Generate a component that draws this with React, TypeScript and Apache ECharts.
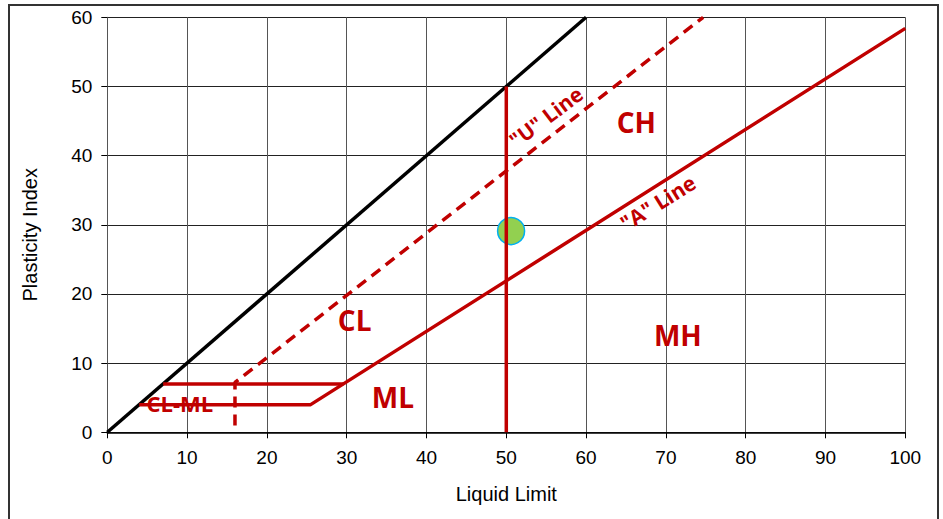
import React, { useEffect, useRef } from "react";
import * as echarts from "echarts";

// Axis ticks
const xTicks = [0, 10, 20, 30, 40, 50, 60, 70, 80, 90, 100];
const yTicks = [0, 10, 20, 30, 40, 50, 60];

// Boundary lines [LL, PI]
const equalityLine = [[0, 0], [60, 60]];
const uLine = [[16, 1], [16, 7.2], [74.67, 60]];
const aLine = [[4, 4], [25.48, 4], [29.59, 7], [100, 58.4]];
const clmlTop = [[7, 7], [29.59, 7]];
const ll50Line = [[50, 0], [50, 50]];

// Sample point
const samplePoint = [[50.6, 29.1]];

// Zone labels [LL, PI, text, rotate, fontSize]
const zoneLabels: [number, number, string, number, number][] = [
  [31.0, 16.2, "CL", 0, 28],
  [66.3, 44.9, "CH", 0, 28],
  [71.5, 14.1, "MH", 0, 28],
  [35.8, 5.1, "ML", 0, 28],
  [9.1, 4.2, "CL-ML", 0, 22],
  [54.97, 45.6, '"U" Line', 37, 21],
  [69.0, 33.2, '"A" Line', 32, 21],
];

const RED = "#C00000";

export default function App() {
  const ref = useRef<HTMLDivElement>(null);
  useEffect(() => {
    if (!ref.current) return;
    const chart = echarts.init(ref.current, null, { renderer: "svg" });
    const lineSeries = (data: number[][], color: string, type: any = "solid", z = 3) => ({
      type: "line",
      data,
      symbol: "none",
      z,
      lineStyle: { color, width: 3.5, type, opacity: 1 },
      silent: true,
    });
    chart.setOption({
      animation: false,
      backgroundColor: "#ffffff",
      grid: { left: 107.3, right: 37.7, top: 17.3, bottom: 86.7 },
      graphic: [
        {
          type: "rect",
          shape: { x: 9, y: 5, width: 929, height: 540 },
          style: { fill: "none", stroke: "#333", lineWidth: 2 },
          z: -10,
        },
      ],
      xAxis: {
        type: "value",
        min: xTicks[0],
        max: xTicks[xTicks.length - 1],
        interval: 10,
        name: "Liquid Limit",
        nameLocation: "middle",
        nameGap: 52,
        nameTextStyle: { fontFamily: "Liberation Sans", fontSize: 20, color: "#000" },
        axisLine: { show: true, lineStyle: { color: "#000", width: 1.5 } },
        axisTick: { show: true, length: 6, lineStyle: { color: "#000" } },
        axisLabel: { fontFamily: "Liberation Sans", fontSize: 19, color: "#000", margin: 16 },
        splitLine: { show: true, lineStyle: { color: "#555", width: 1 } },
      },
      yAxis: {
        type: "value",
        min: yTicks[0],
        max: yTicks[yTicks.length - 1],
        interval: 10,
        name: "Plasticity Index",
        nameLocation: "middle",
        nameGap: 67,
        nameTextStyle: {
          fontFamily: "Liberation Sans",
          fontSize: 20,
          color: "#000",
          padding: [0, 20, 0, 0],
        },
        axisLine: { show: true, lineStyle: { color: "#555", width: 1 } },
        axisTick: { show: true, length: 6, lineStyle: { color: "#000" } },
        axisLabel: { fontFamily: "Liberation Sans", fontSize: 19, color: "#000", margin: 15 },
        splitLine: { show: true, lineStyle: { color: "#222", width: 1 } },
      },
      series: [
        {
          type: "scatter",
          data: samplePoint,
          symbolSize: 27,
          z: 2,
          itemStyle: { color: "#92D050", borderColor: "#00B0F0", borderWidth: 1.5, opacity: 1 },
        },
        lineSeries(equalityLine, "#000"),
        lineSeries(uLine, RED, [11, 7]),
        lineSeries(aLine, RED),
        lineSeries(clmlTop, RED),
        lineSeries(ll50Line, RED),
        {
          type: "scatter",
          symbolSize: 1,
          z: 5,
          itemStyle: { color: "rgba(0,0,0,0)", opacity: 1 },
          silent: true,
          data: zoneLabels.map(([x, y, t, r, fs]) => ({
            value: [x, y],
            label: {
              show: true,
              position: "inside",
              formatter: t,
              rotate: r,
              fontSize: fs,
              fontWeight: "bold",
              fontFamily: "Open Sans",
              color: RED,
              opacity: 1,
              textBorderWidth: 0,
              align: "center",
              verticalAlign: "middle",
            },
          })),
        },
      ],
    });
    return () => chart.dispose();
  }, []);
  return (
    <div
      ref={ref}
      style={{ position: "absolute", left: 0, top: 0, width: 943, height: 519, background: "#fff" }}
    />
  );
}
